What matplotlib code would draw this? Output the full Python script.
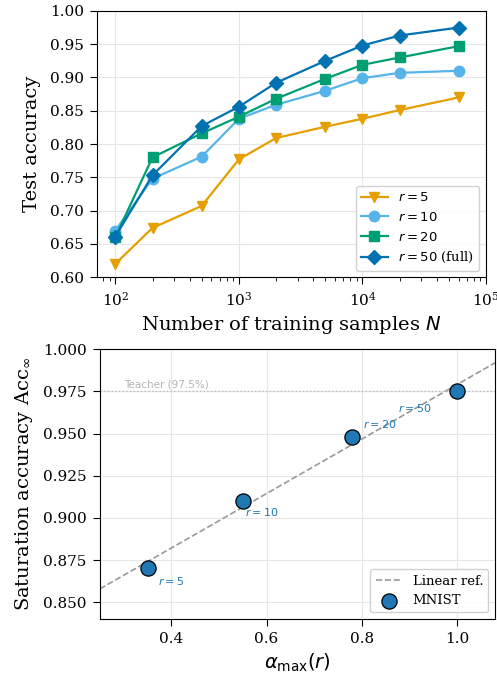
import numpy as np
import matplotlib
matplotlib.use("Agg")
import matplotlib.pyplot as plt
from matplotlib.ticker import MultipleLocator, FormatStrFormatter

plt.rcParams['font.family'] = 'DejaVu Serif'
plt.rcParams['mathtext.fontset'] = 'dejavusans'
plt.rcParams['xtick.major.size'] = 5
plt.rcParams['ytick.major.size'] = 5
plt.rcParams['xtick.minor.size'] = 3
plt.rcParams['xtick.major.pad'] = 4.5
plt.rcParams['ytick.major.pad'] = 4.5

# Data: test accuracy vs number of training samples
n_samples = [100, 200, 500, 1000, 2000, 5000, 10000, 20000, 60000]
acc_r5 = [0.620, 0.674, 0.707, 0.777, 0.809, 0.826, 0.838, 0.851, 0.870]
acc_r10 = [0.670, 0.748, 0.781, 0.838, 0.859, 0.880, 0.899, 0.907, 0.910]
acc_r20 = [0.660, 0.780, 0.816, 0.841, 0.868, 0.898, 0.919, 0.930, 0.947]
acc_r50 = [0.661, 0.753, 0.827, 0.856, 0.892, 0.925, 0.948, 0.963, 0.975]

# Data: saturation accuracy vs alpha_max
ranks = [5, 10, 20, 50]
alpha_max = [0.35, 0.55, 0.78, 1.0]
acc_sat = [0.870, 0.910, 0.948, 0.975]
teacher_acc = 0.975

fig = plt.figure(figsize=(4.97, 6.81), dpi=100)
ax1 = fig.add_axes([0.195, 0.593, 0.783, 0.391])
ax2 = fig.add_axes([0.201, 0.091, 0.795, 0.396])

series = [
    (acc_r5, '#E69F00', 'v', r'$r=5$'),
    (acc_r10, '#56B4E9', 'o', r'$r=10$'),
    (acc_r20, '#009E73', 's', r'$r=20$'),
    (acc_r50, '#0072B2', 'D', r'$r=50$ (full)'),
]
for vals, col, mk, lab in series:
    ax1.plot(n_samples, vals, color=col, marker=mk, markersize=7.5, linewidth=1.6, label=lab)

ax1.set_xscale('log')
ax1.set_xlim(71, 1e5)
ax1.set_ylim(0.60, 1.00)
ax1.set_xlabel('Number of training samples $N$', fontsize=14)
ax1.set_ylabel('Test accuracy', fontsize=14, labelpad=6)
ax1.tick_params(labelsize=11)
ax1.grid(True, color='#e6e6e6', linewidth=0.8)
ax1.legend(loc='lower right', fontsize=9.5, framealpha=0.9)

# Bottom panel
fit = np.polyfit(alpha_max, acc_sat, 1)
xs = np.array([0.25, 1.08])
ax2.plot(xs, np.polyval(fit, xs), color='#999999', linestyle='--', linewidth=1.2, label='Linear ref.')
ax2.axhline(teacher_acc, color='#bbbbbb', linestyle=':', linewidth=1.0)
ax2.text(0.30, teacher_acc + 0.0012, 'Teacher (97.5%)', color='#b3b3b3', fontsize=7.5,
         family='DejaVu Sans', va='bottom')
ax2.scatter(alpha_max, acc_sat, s=120, color='#1f77b4', edgecolor='black', linewidth=0.9,
            zorder=3, label='MNIST')

offsets = [(17, -9), (14, -8), (20, 9), (-30, -12)]
for r, xa, ya, off in zip(ranks, alpha_max, acc_sat, offsets):
    ax2.annotate(r'$r=%d$' % r, (xa, ya), xytext=off, textcoords='offset points',
                 color='#1f77b4', fontsize=8, ha='center', va='center')

ax2.set_xlim(0.25, 1.08)
ax2.set_ylim(0.84, 1.00)
ax2.set_xticks([0.4, 0.6, 0.8, 1.0])
ax2.yaxis.set_major_locator(MultipleLocator(0.025))
ax2.yaxis.set_major_formatter(FormatStrFormatter('%.3f'))
ax2.set_xlabel(r'$\alpha_{\max}(r)$', fontsize=14)
ax2.set_ylabel(r'Saturation accuracy Acc$_\infty$', fontsize=14, labelpad=6)
ax2.tick_params(labelsize=11)
ax2.grid(True, color='#e6e6e6', linewidth=0.8)
ax2.legend(loc='lower right', fontsize=9.5, framealpha=0.9)

fig.savefig('out.png', dpi=100)
